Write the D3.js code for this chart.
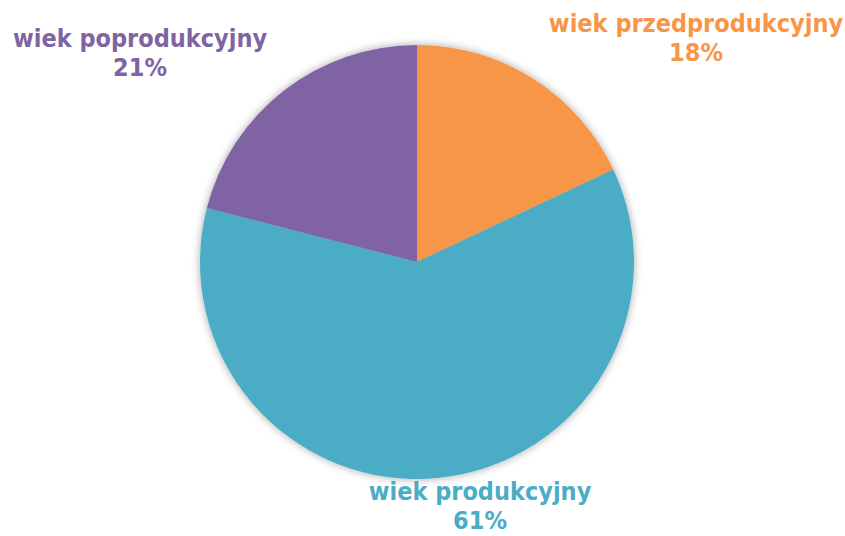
<!DOCTYPE html>
<html>
<head>
<meta charset="utf-8">
<script src="https://cdn.jsdelivr.net/npm/d3@7"></script>
<style>
  html, body { margin: 0; padding: 0; background: #fff; }
  svg { display: block; }
</style>
</head>
<body>
<div id="vis"></div>
<script>
// ── DATA ───────────────────────────────────────────────────────────────────────
const categories = ["wiek przedprodukcyjny", "wiek produkcyjny", "wiek poprodukcyjny"];
const shares     = [18, 61, 21];
const colors     = ["#F79646", "#4BACC6", "#8064A2"];

// ── CONFIG ─────────────────────────────────────────────────────────────────────
const width  = 845;
const height = 536;
const cx = 417, cy = 262, radius = 217;
const fontSize = 25;
const lineGap  = 29;

// label anchor points (centre of text block, first-line baseline)
const labelPos = [
  { x: 696, y: 32 },
  { x: 480, y: 500 },
  { x: 140, y: 47 }
];

const svg = d3.select("#vis").append("svg")
    .attr("width", width)
    .attr("height", height)
    .attr("viewBox", [0, 0, width, height]);

const defs = svg.append("defs");
const shadow = defs.append("filter")
    .attr("id", "shadow")
    .attr("x", "-20%").attr("y", "-20%")
    .attr("width", "140%").attr("height", "140%");
shadow.append("feDropShadow")
    .attr("dx", 0).attr("dy", 0)
    .attr("stdDeviation", 4)
    .attr("flood-color", "#000")
    .attr("flood-opacity", 0.35);

const pie = d3.pie().sort(null).value(d => d)(shares);
const arc = d3.arc().innerRadius(0).outerRadius(radius);

const g = svg.append("g")
    .attr("transform", `translate(${cx},${cy})`)
    .attr("filter", "url(#shadow)");

g.selectAll("path")
  .data(pie)
  .join("path")
    .attr("d", arc)
    .attr("fill", (d, i) => colors[i]);

// ── LABELS ─────────────────────────────────────────────────────────────────────
const labels = svg.append("g")
    .style("font", `bold ${fontSize}px "DejaVu Sans Condensed", "DejaVu Sans", sans-serif`)
    .attr("text-anchor", "middle");

labels.selectAll("text")
  .data(pie)
  .join("text")
    .attr("fill", (d, i) => colors[i])
    .attr("x", (d, i) => labelPos[i].x)
    .attr("y", (d, i) => labelPos[i].y)
    .call(t => t.append("tspan")
      .attr("x", (d, i) => labelPos[i].x)
      .text((d, i) => categories[i]))
    .call(t => t.append("tspan")
      .attr("x", (d, i) => labelPos[i].x)
      .attr("dy", lineGap)
      .text(d => d.data + "%"));
</script>
</body>
</html>
